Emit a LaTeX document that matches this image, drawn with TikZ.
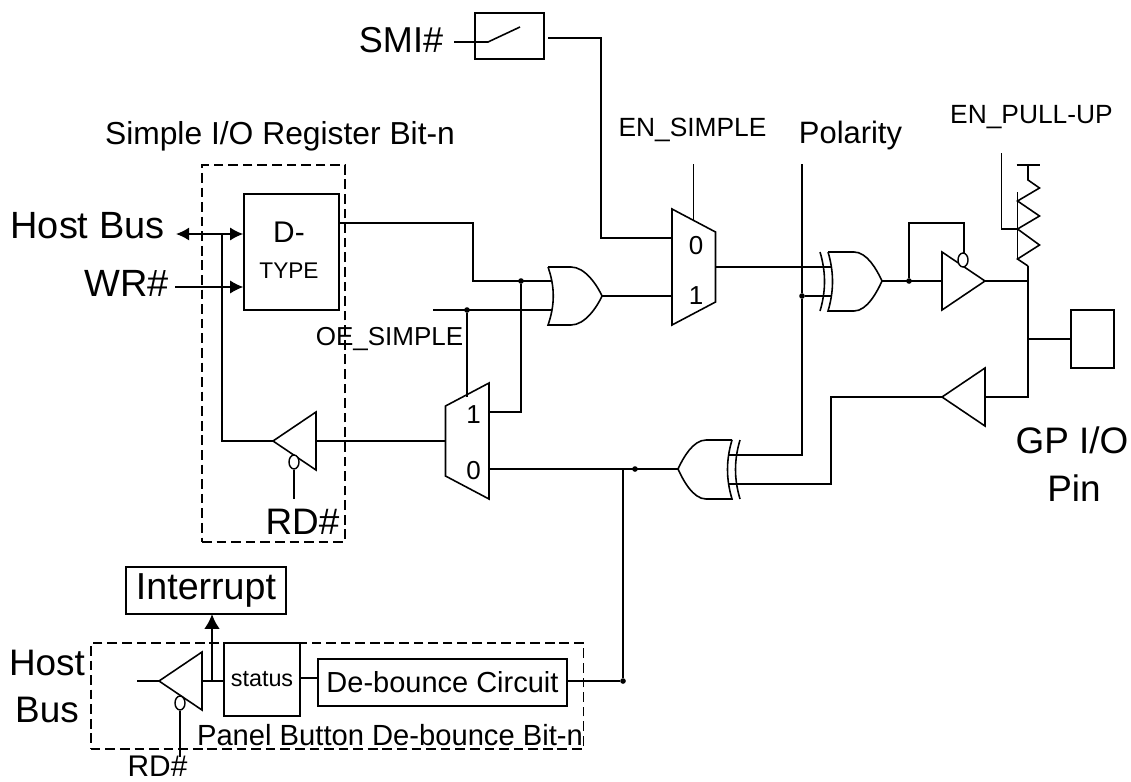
\documentclass[tikz,border=0pt]{standalone}
\usepackage{fontspec}
\setmainfont{Liberation Sans}
\usetikzlibrary{arrows.meta,shapes.geometric}
\tikzset{
  wire/.style={line width=0.9pt},
  thinwire/.style={line width=0.6pt},
  box/.style={draw,line width=0.9pt,rectangle,inner sep=0pt},
  dashbox/.style={draw,line width=0.8pt,rectangle,dash pattern=on 5.5pt off 2.8pt,inner sep=0pt},
  txt/.style={inner sep=0pt,font=\fontsize{#1}{#1}\selectfont},
  jdot/.style={circle,fill,inner sep=0pt,minimum size=3.2pt},
  bubble/.style={draw,line width=0.8pt,ellipse,fill=white,inner sep=0pt,minimum width=0.2cm,minimum height=0.28cm},
  orgate/.pic={
    \draw[wire] (-54,-29) -- (-31,-29) .. controls (-17,-29) and (-5,-11) .. (0,0)
      .. controls (-5,11) and (-17,29) .. (-31,29) -- (-54,29)
      .. controls (-47,9) and (-47,-9) .. (-54,-29);
    \coordinate (-in1) at (-50,-15);
    \coordinate (-in2) at (-50,14);
    \coordinate (-out) at (0,0);
  },
  xorgate/.pic={
    \draw[wire] (-54,-29) -- (-28,-29) .. controls (-15,-29) and (-5,-11) .. (0,0)
      .. controls (-5,11) and (-15,30) .. (-28,30) -- (-54,30)
      .. controls (-48,10) and (-48,-9) .. (-54,-29);
    \draw[wire] (-62,-29) .. controls (-56,-9) and (-56,10) .. (-62,30);
    \coordinate (-in1) at (-50,-14);
    \coordinate (-in2) at (-50,15);
    \coordinate (-out) at (0,0);
  },
  bufgate/.pic={
    \draw[wire] (-43,-29) -- (0,0) -- (-43,29) -- cycle;
    \coordinate (-in) at (-43,0);
    \coordinate (-out) at (0,0);
  },
  muxgate/.pic={
    \draw[wire] (0,-58) -- (43.5,-35) -- (43.5,35) -- (0,58) -- cycle;
  },
}
\begin{document}
\begin{tikzpicture}[x=0.02cm,y=-0.02cm]
  \useasboundingbox (0,0) rectangle (1131,781);
  % Рамки и блоки
  \node[dashbox,minimum width=2.86cm,minimum height=7.54cm] (regbox) at (273.5,353.5) {};
  \node[dashbox,minimum width=9.85cm,minimum height=2.12cm] (panelbox) at (337,696) {};
  \node[box,minimum width=1.9cm,minimum height=2.32cm] (dtype) at (291.5,252) {};
  \node[box,minimum width=1.38cm,minimum height=0.92cm] (switch) at (509.5,36) {};
  \node[box,minimum width=0.86cm,minimum height=1.16cm] (pad) at (1092.5,339) {};
  \node[box,txt=21.4,minimum width=3.19cm,minimum height=0.94cm] (interrupt) at (206,590.5) {Interrupt};
  \node[box,txt=13.3,minimum width=1.52cm,minimum height=1.46cm] (status) at (262,679.5) {status};
  \node[box,txt=16.5,minimum width=4.98cm,minimum height=0.94cm] (debounce) at (442.5,682.5) {De-bounce Circuit};
  % Вентили
  \pic (orA) at (602,296) {orgate};
  \pic (xorA) at (882,281) {xorgate};
  \pic[xscale=-1] (xorB) at (678,469) {xorgate};
  \pic (bufA) at (985,281) {bufgate};
  \pic[xscale=-1] (bufB) at (942,397) {bufgate};
  \pic[xscale=-1] (bufC) at (273,441) {bufgate};
  \pic[xscale=-1] (bufD) at (159,681) {bufgate};
  \pic (muxA) at (672,267) {muxgate};
  \pic[xscale=-1] (muxB) at (489,441) {muxgate};
  \node[bubble] (bubA) at (963,260) {};
  \node[bubble] (bubC) at (294,462) {};
  \node[bubble] (bubD) at (180,703) {};
  % Подписи
  \node[txt=20.5] (smi) at (401,40) {SMI\#};
  \node[txt=18.1] (regname) at (280,136) {Simple I/O Register Bit-n};
  \node[txt=21.6] (hostbus) at (87.5,226) {Host Bus};
  \node[txt=21.6] (wr) at (126.5,283) {WR\#};
  \node[txt=14.8] (oesimple) at (389.5,339) {OE\_SIMPLE};
  \node[txt=15] (ensimple) at (692.5,130) {EN\_SIMPLE};
  \node[txt=17.6] (polarity) at (850.5,136) {Polarity};
  \node[txt=15] (enpullup) at (1031.5,117) {EN\_PULL-UP};
  \node[txt=21] (gpio) at (1072,440) {GP I/O};
  \node[txt=21] (pin) at (1074,488) {Pin};
  \node[txt=17] (dlbl) at (289,232) {D-};
  \node[txt=12.9] (typelbl) at (289,271) {TYPE};
  \node[txt=21] (rdA) at (302.5,522) {RD\#};
  \node[txt=21] (hostlbl) at (47,663) {Host};
  \node[txt=21] (buslbl) at (47,710) {Bus};
  \node[txt=17] (rdB) at (157.5,766) {RD\#};
  \node[txt=16.6] (panelname) at (390,735) {Panel Button De-bounce Bit-n};
  \foreach \nm/\px/\py/\tx in {m0/696/246/0,m1/696/296/1,n1/473.5/415/1,n0/473.5/471/0}{
    \node[txt=14.8] (\nm) at (\px,\py) {\tx};}
  % Точки соединений
  \node[jdot] (jor) at (521,281) {};
  \node[jdot] (joe) at (467,310) {};
  \node[jdot] (jpol) at (802,296) {};
  \node[jdot] (jfb) at (909,281) {};
  \node[jdot] (jmux) at (635,469) {};
  \node[jdot] (jdeb) at (623,681) {};
  \coordinate (jbus) at (222,234);
  \coordinate (jpull) at (1028,281);
  \coordinate (jpad) at (1028,339);
  % Верхняя часть
  \coordinate (smiin) at (454,42);
  \coordinate (armA) at (488,42);
  \coordinate (armB) at (520,27);
  \draw[wire] (smiin) -- (armA) -- (armB);
  \coordinate (swout) at (548,38);
  \coordinate (swc) at (601,38);
  \coordinate (muxA0) at (672,238);
  \draw[wire] (swout) -- (swc) |- (muxA0);
  \coordinate (entop) at (693.5,164);
  \coordinate (ensel) at (693.5,220);
  \draw[wire] (entop) -- (ensel);
  \coordinate (muxA1) at (672,296);
  \draw[wire] (orA-out) -- (muxA1);
  \coordinate (muxAout) at (715.5,267);
  \draw[wire] (muxAout) -- (xorA-in1);
  \draw[wire] (jpol) -- (xorA-in2);
  \coordinate (poltop) at (802,164);
  \draw[wire] (poltop) -- (jpol) |- (xorB-in1);
  \draw[wire] (xorA-out) -- (bufA-in);
  \coordinate (fbend) at (964,253);
  \draw[wire] (jfb) |- (fbend |- 0,223) -- (fbend);
  \draw[wire] (bufA-out) -- (jpull);
  % Подтягивающий резистор
  \draw[wire] (1016.6,165) -- (1039.5,165);
  \draw[wire] (1028,165) -- (1028,180) -- (1039.5,188) -- (1017.5,201) -- (1039.5,216)
    -- (1017.5,229) -- (1039.5,245) -- (1017.5,259) -- (1028,266) coordinate (rbot);
  \draw[wire] (1017.5,192) -- (1017.5,259);
  \coordinate (pulltop) at (1001.6,153);
  \draw[wire] (pulltop) |- (1017.5,229);
  \draw[wire] (rbot) -- (jpad) -- (1028,397) -- (bufB-in);
  \draw[wire] (jpad) -- (pad.west);
  % Обратная шина
  \draw[wire] (bufB-out) -| (831,484) -- (xorB-in2);
  \coordinate (muxB0) at (489,469);
  \draw[wire] (xorB-out) -- (muxB0);
  \draw[wire] (623,469) -- (jdeb);
  \draw[wire] (debounce.east |- jdeb) -- (jdeb);
  % Регистр
  \coordinate (hostend) at (176,234);
  \coordinate (wrend) at (175,287);
  \draw[wire,{Latex[length=7.4pt,width=7.4pt]}-{Latex[length=7.4pt,width=7.4pt]}] (hostend) -- (dtype.west |- jbus);
  \draw[thinwire,-{Latex[length=7.4pt,width=7.4pt]}] (wrend) -- (dtype.west |- wrend);
  \draw[wire] (jbus) |- (bufC-out);
  \coordinate (muxBin) at (446,441);
  \draw[wire] (bufC-in) -- (muxBin);
  \coordinate (rdAend) at (294,499);
  \draw[wire] (bubC.south) -- (rdAend);
  \draw[wire] (dtype.east |- 0,223) -| (473,281) -- (orA-in1);
  \coordinate (oeend) at (433,310);
  \draw[wire] (oeend) -- (orA-in2);
  \coordinate (muxBsel) at (467,397);
  \draw[wire] (joe) -- (muxBsel);
  \coordinate (muxB1) at (489,412);
  \draw[wire] (jor) |- (muxB1);
  % Нижняя часть
  \coordinate (bufDin) at (137,681);
  \draw[wire] (bufDin) -- (bufD-out);
  \draw[wire] (bufD-in) -- (status.west |- bufD-in);
  \coordinate (rdBend) at (180,757);
  \draw[wire] (bubD.south) -- (rdBend);
  \draw[wire] (status.east |- 0,678) -- (debounce.west |- 0,678);
  \draw[line width=1.3pt,-{Latex[length=8.5pt,width=9pt]}] (212,681) -- (212,614);
\end{tikzpicture}
\end{document}
